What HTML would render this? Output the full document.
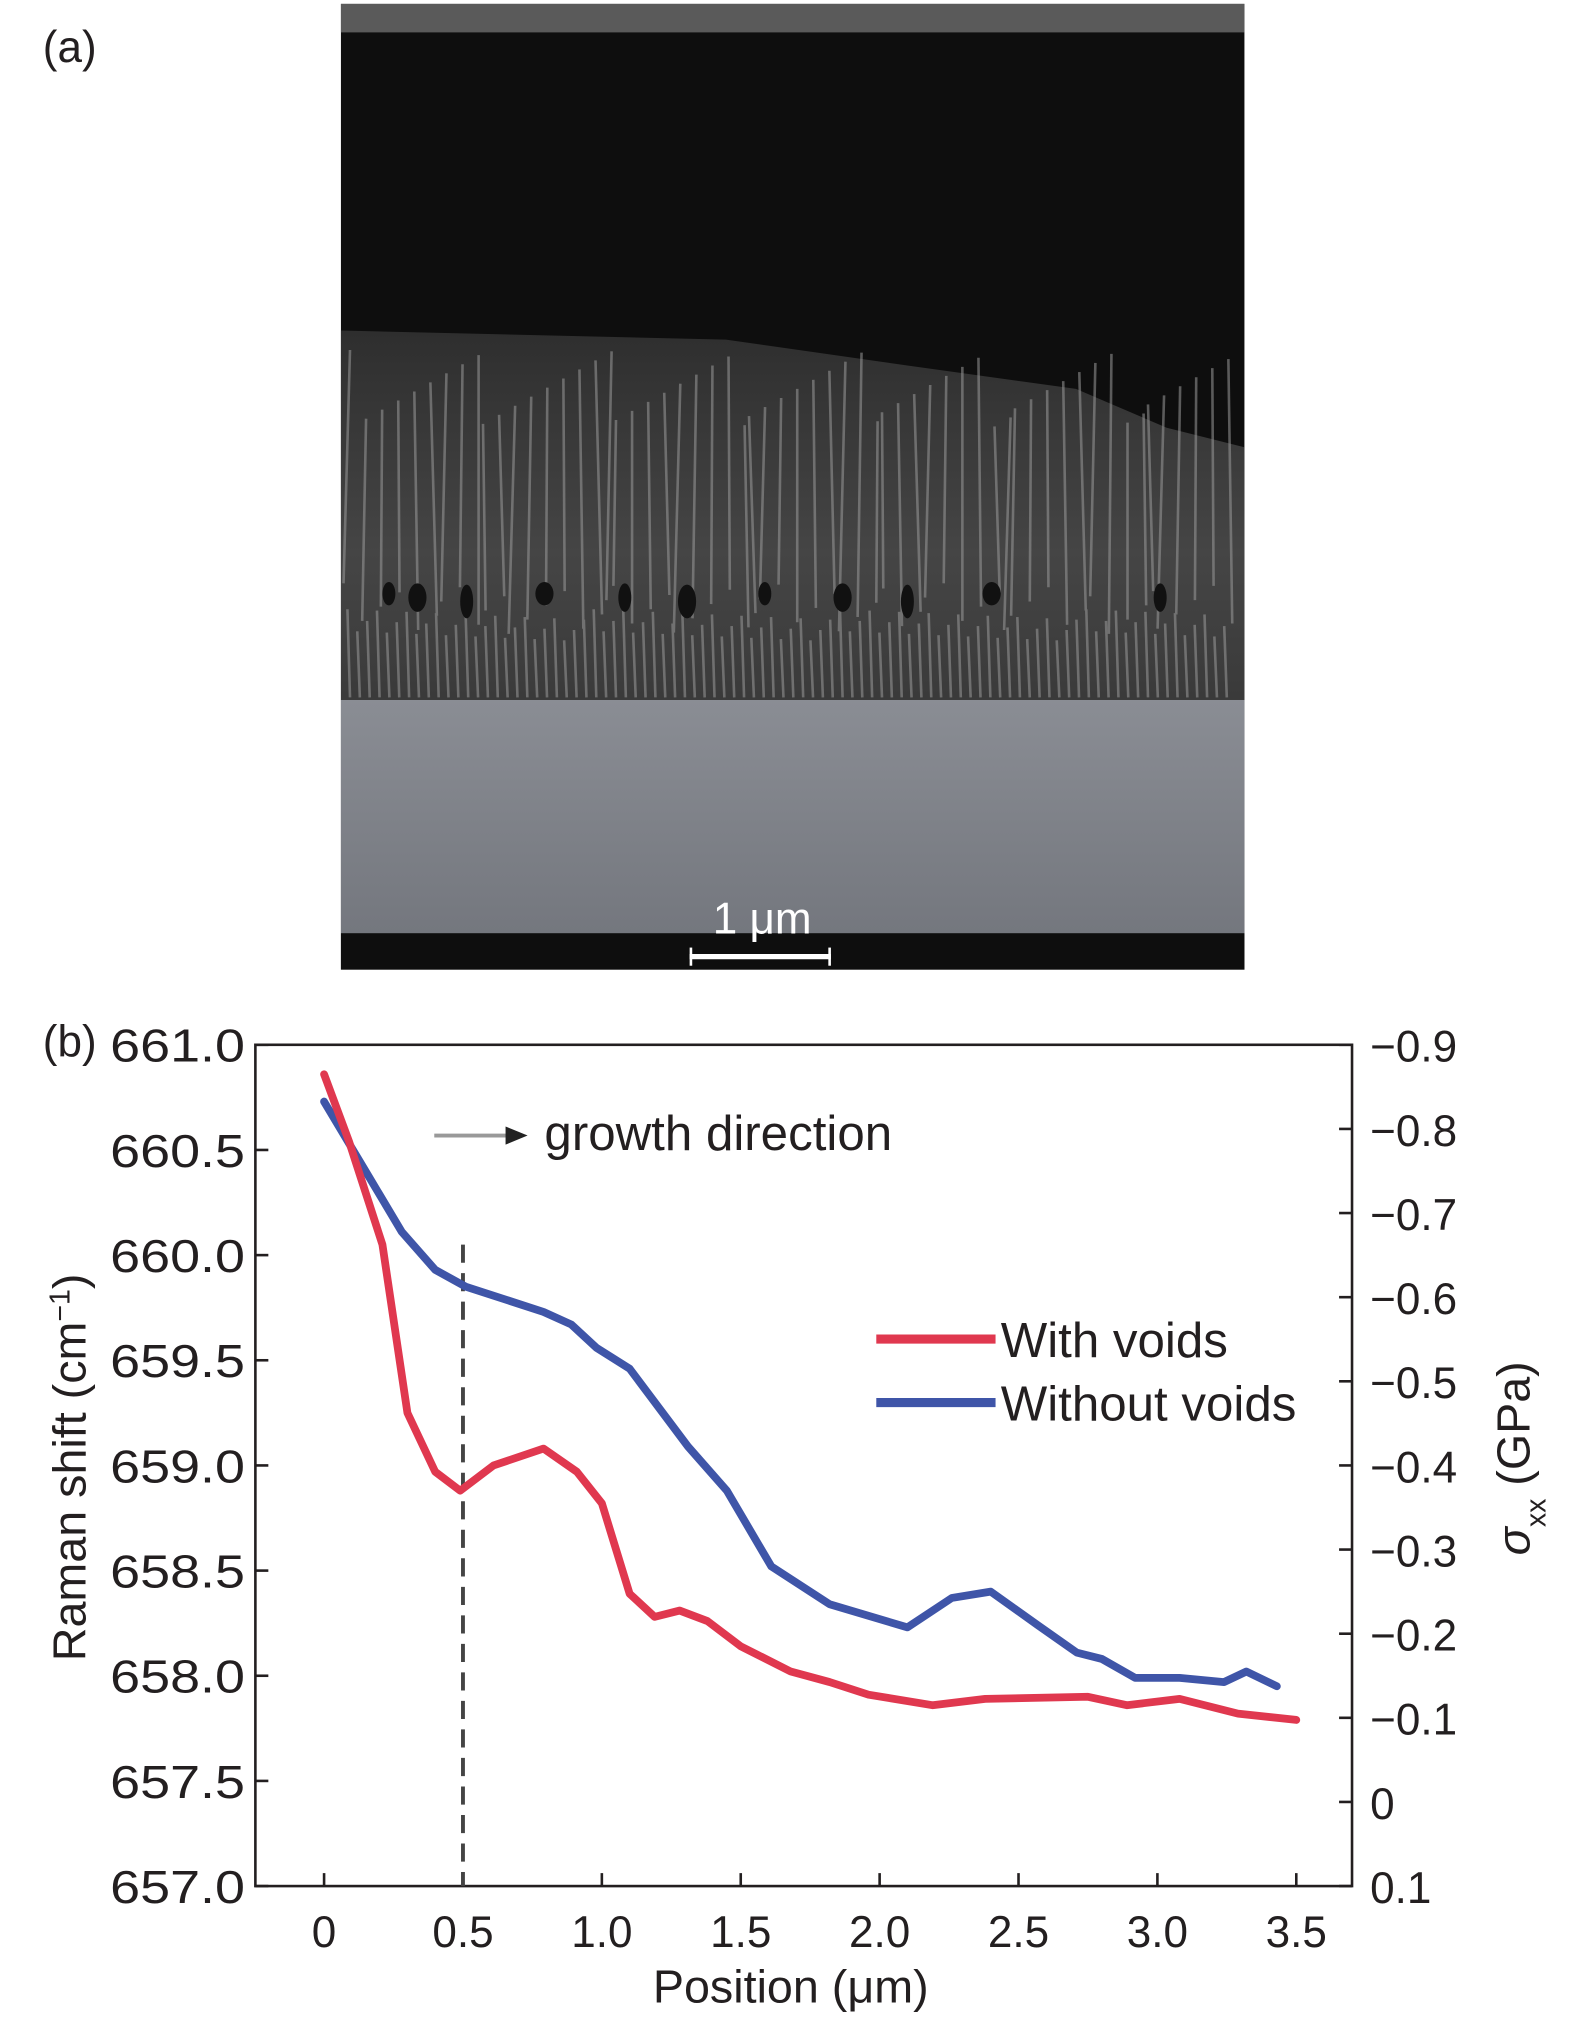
<!DOCTYPE html>
<html><head><meta charset="utf-8"><style>
html,body{margin:0;padding:0;background:#fff;}
svg{display:block;}
text{font-family:"Liberation Sans",sans-serif;fill:#231f20;}
</style></head><body>
<svg width="1575" height="2031" viewBox="0 0 1215 1566.8">
<defs>
<linearGradient id="mid" x1="0" y1="0" x2="0" y2="1">
<stop offset="0" stop-color="#2e2e2e"/><stop offset="0.6" stop-color="#454545"/><stop offset="1" stop-color="#3a3a3a"/>
</linearGradient>
<linearGradient id="low" x1="0" y1="0" x2="0" y2="1">
<stop offset="0" stop-color="#8a8d94"/><stop offset="1" stop-color="#74777e"/>
</linearGradient>
</defs>
<text x="33" y="48" font-size="34">(a)</text>
<g>
<rect x="263" y="3" width="697" height="745" fill="#0e0e0e"/>
<rect x="263" y="3" width="697" height="22" fill="#5a5a5a"/>
<path d="M263,255 L560,262 L700,282 L830,300 L900,330 L960,345 L960,540 L263,540 Z" fill="url(#mid)"/>
<rect x="263" y="540" width="697" height="180" fill="url(#low)"/>
<g id="streaks" stroke="#9a9a9a" stroke-width="2" opacity="0.55"></g>
<g id="voids" fill="#111"></g>
<rect x="263" y="720" width="697" height="28" fill="#0e0e0e"/>
<line x1="532" y1="738" x2="641" y2="738" stroke="#fff" stroke-width="4"/>
<line x1="533" y1="731" x2="533" y2="745" stroke="#fff" stroke-width="2"/>
<line x1="640" y1="731" x2="640" y2="745" stroke="#fff" stroke-width="2"/>
<text x="588" y="720" font-size="34" text-anchor="middle" style="fill:#fff">1 μm</text>
</g>
<text x="33" y="815" font-size="34">(b)</text>
<g id="chart"></g>
</svg>
<script>
const xTicks=[0,0.5,1.0,1.5,2.0,2.5,3.0,3.5];
const xTickLabels=["0","0.5","1.0","1.5","2.0","2.5","3.0","3.5"];
const yTicks=[657.0,657.5,658.0,658.5,659.0,659.5,660.0,660.5,661.0];
const yTickLabels=["657.0","657.5","658.0","658.5","659.0","659.5","660.0","660.5","661.0"];
const y2Ticks=[0.1,0,-0.1,-0.2,-0.3,-0.4,-0.5,-0.6,-0.7,-0.8,-0.9];
const y2TickLabels=["0.1","0","\u22120.1","\u22120.2","\u22120.3","\u22120.4","\u22120.5","\u22120.6","\u22120.7","\u22120.8","\u22120.9"];
const redX=[0,0.09,0.21,0.3,0.4,0.49,0.61,0.79,0.91,1.0,1.1,1.19,1.28,1.38,1.5,1.68,1.82,1.96,2.19,2.38,2.75,2.89,3.08,3.29,3.5];
const redY=[660.86,660.54,660.05,659.25,658.97,658.88,659.0,659.08,658.97,658.82,658.39,658.28,658.31,658.26,658.14,658.02,657.97,657.91,657.86,657.89,657.9,657.86,657.89,657.82,657.79];
const blueX=[0,0.14,0.28,0.4,0.51,0.79,0.89,0.98,1.1,1.31,1.45,1.61,1.82,2.1,2.26,2.4,2.57,2.71,2.8,2.92,3.08,3.24,3.32,3.43];
const blueY=[660.73,660.42,660.11,659.93,659.85,659.73,659.67,659.56,659.46,659.09,658.88,658.52,658.34,658.23,658.37,658.4,658.24,658.11,658.08,657.99,657.99,657.97,658.02,657.95];

const NS="http://www.w3.org/2000/svg";
const L=197,R=1043,T=806,B=1455;
const sx=v=>250+(v-0)*(1000-250)/3.5;
const sy=v=>B-(v-657)*(B-T)/4;
const sy2=v=>B-(0.1-v)*(B-T)/1.0;
const g=document.getElementById('chart');
function mk(tag,attrs,parent){const e=document.createElementNS(NS,tag);for(const k in attrs)e.setAttribute(k,attrs[k]);(parent||g).appendChild(e);return e;}

const st=document.getElementById('streaks');
for(let i=0;i<60;i++){const x=270+i*11.4+((i*37)%9);mk('line',{x1:x,y1:270+((i*53)%60),x2:x+((i*13)%11)-5,y2:450+((i*29)%40)},st);}
for(let i=0;i<90;i++){const x=268+i*7.6;mk('line',{x1:x,y1:470+((i*17)%25),x2:x+2,y2:538},st);}
const vd=document.getElementById('voids');
[300,322,360,420,482,530,590,650,700,765,895].forEach((x,i)=>{mk('ellipse',{cx:x,cy:458+(i%3)*3,rx:5+(i%2)*2,ry:9+(i%3)*2},vd);});

const frame=mk('rect',{x:L,y:T,width:R-L,height:B-T,fill:'none',stroke:'#231f20','stroke-width':2});



xTicks.forEach((v,i)=>{
 mk('line',{x1:sx(v),y1:B,x2:sx(v),y2:B-10,stroke:'#231f20','stroke-width':2});
 const t=mk('text',{x:sx(v),y:B+47,'font-size':34,'text-anchor':'middle'});t.textContent=xTickLabels[i];
 
 
});
yTicks.forEach((v,i)=>{
 mk('line',{x1:L,y1:sy(v),x2:L+10,y2:sy(v),stroke:'#231f20','stroke-width':2});
 const t=mk('text',{x:L-8,y:sy(v)+13,'font-size':36,'text-anchor':'end',textLength:104,lengthAdjust:'spacingAndGlyphs'});t.textContent=yTickLabels[i];
 
 
});
y2Ticks.forEach((v,i)=>{
 mk('line',{x1:R,y1:sy2(v),x2:R-10,y2:sy2(v),stroke:'#231f20','stroke-width':2});
 const t=mk('text',{x:R+14,y:sy2(v)+13,'font-size':34,'text-anchor':'start'});t.textContent=y2TickLabels[i];
 
 
});
const xt=mk('text',{x:610,y:1545,'font-size':36,'text-anchor':'middle'});xt.textContent='Position (μm)';


const yt=mk('text',{x:0,y:0,'font-size':36,'text-anchor':'middle',transform:'translate(66,1132) rotate(-90)'});
yt.innerHTML='Raman shift (cm<tspan baseline-shift="super" font-size="22">\u22121</tspan>)';


const y2t=mk('text',{x:0,y:0,'font-size':36,'text-anchor':'middle',transform:'translate(1180,1125) rotate(-90)'});
y2t.innerHTML='<tspan font-style="italic">σ</tspan><tspan baseline-shift="sub" font-size="22">xx</tspan> (GPa)';



const dl=mk('line',{x1:sx(0.5),y1:sy(660.05),x2:sx(0.5),y2:B,stroke:'#444','stroke-width':3,'stroke-dasharray':'14 8'});



function series(xs,ys,color,name){
 const p=mk('polyline',{points:xs.map((x,i)=>sx(x)+','+sy(ys[i])).join(' '),fill:'none',stroke:color,'stroke-width':6,'stroke-linejoin':'round','stroke-linecap':'round'});
 
 
}
series(blueX,blueY,'#3f55a8','without-voids-line');
series(redX,redY,'#e0384f','with-voids-line');

const ar=mk('line',{x1:335,y1:876,x2:395,y2:876,stroke:'#999','stroke-width':3});


mk('polygon',{points:'390,869 407,876 390,883',fill:'#222'});
const gt=mk('text',{x:420,y:887,'font-size':38});gt.textContent='growth direction';



const l1=mk('line',{x1:676,y1:1033,x2:768,y2:1033,stroke:'#e0384f','stroke-width':7});


const t1=mk('text',{x:772,y:1047,'font-size':38});t1.textContent='With voids';


const l2=mk('line',{x1:676,y1:1082,x2:768,y2:1082,stroke:'#3f55a8','stroke-width':7});


const t2=mk('text',{x:772,y:1096,'font-size':38});t2.textContent='Without voids';


</script>
</body></html>
